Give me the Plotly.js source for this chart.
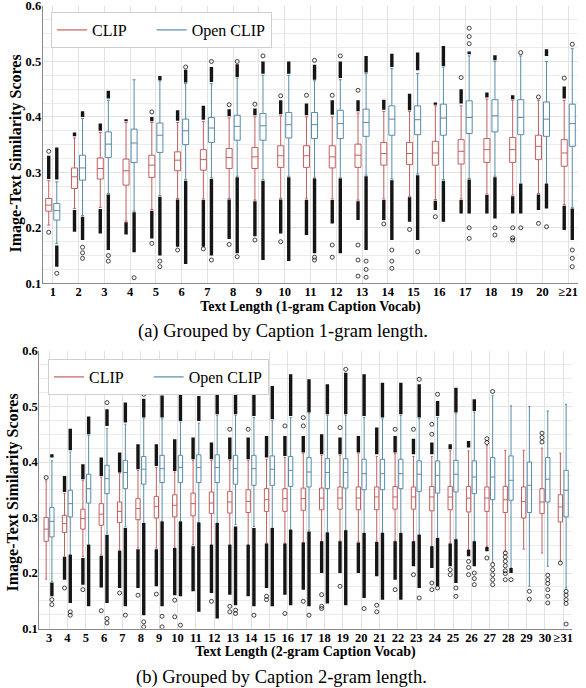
<!DOCTYPE html>
<html><head><meta charset="utf-8">
<script src="https://cdn.plot.ly/plotly-3.0.1.min.js"></script>
<style>html,body{margin:0;padding:0;background:#fff}#chart{width:586px;height:688px}</style>
</head><body><div id="chart"></div>
<script>
// ---------- (a) grouped by caption 1-gram length ----------
const topCats = ['1','2','3','4','5','6','7','8','9','10','11','12','13','14','15','16','17','18','19','20','≥21'];
const topClipLow  = [0.205,0.235,0.237,0.212,0.233,0.253,0.252,0.253,0.25,0.253,0.252,0.252,0.25,0.252,0.257,0.251,0.252,0.261,0.259,0.262,0.242];
const topClipQ1   = [0.230,0.271,0.288,0.277,0.291,0.303,0.304,0.307,0.307,0.309,0.309,0.308,0.309,0.313,0.314,0.313,0.315,0.318,0.318,0.323,0.311];
const topClipMed  = [0.241,0.292,0.307,0.303,0.313,0.322,0.323,0.327,0.328,0.330,0.330,0.328,0.331,0.334,0.334,0.335,0.338,0.341,0.341,0.347,0.335];
const topClipQ3   = [0.253,0.308,0.326,0.324,0.331,0.337,0.341,0.343,0.345,0.348,0.348,0.348,0.351,0.354,0.354,0.356,0.359,0.361,0.363,0.367,0.359];
const topClipHigh = [0.285,0.362,0.372,0.390,0.390,0.390,0.392,0.398,0.400,0.402,0.400,0.400,0.407,0.410,0.410,0.420,0.420,0.432,0.430,0.430,0.430];
const topClipUpDense  = [[0.288,0.33],[0.365,0.372],[0.375,0.388],[0.392,0.396],[0.392,0.4],[0.393,0.412],[0.395,0.42],[0.401,0.414],[0.403,0.415],[0.405,0.43],[0.403,0.424],[0.404,0.43],[0.41,0.43],[0.413,0.431],[0.412,0.442],[0.422,0.426],[0.424,0.45],[0.435,0.444],[0.432,0.439],null,[0.433,0.455]];
const topClipLowDense = [null,[0.193,0.232],[0.19,0.234],[0.188,0.21],[0.181,0.231],[0.166,0.251],[0.166,0.25],[0.18,0.251],[0.185,0.248],[0.19,0.251],[0.187,0.25],[0.208,0.25],[0.214,0.248],[0.214,0.25],[0.211,0.255],[0.232,0.249],[0.226,0.25],[0.226,0.259],[0.226,0.257],[0.232,0.26],[0.196,0.24]];
const topClipPts = [[0.338,0.192],[],[],[],[0.409,0.172],[0.16],[0.162],[0.422,0.17],[0.423,0.178],[0.438,0.175],[0.439],[0.439,0.169,0.147],[0.448,0.169,0.142,0.113],[0.207],[0.197],[0.22],[0.471],[],[0.2,0.182,0.178],[0.436,0.208],[0.47]];

const topOpenLow  = [0.172,0.222,0.262,0.230,0.258,0.287,0.290,0.293,0.287,0.293,0.290,0.290,0.295,0.288,0.297,0.287,0.289,0.293,0.280,0.280,0.237];
const topOpenQ1   = [0.214,0.286,0.327,0.318,0.336,0.350,0.354,0.358,0.358,0.362,0.361,0.361,0.365,0.367,0.368,0.367,0.370,0.373,0.368,0.365,0.347];
const topOpenMed  = [0.231,0.308,0.351,0.353,0.367,0.375,0.380,0.383,0.384,0.386,0.386,0.388,0.390,0.396,0.395,0.398,0.399,0.402,0.399,0.396,0.388];
const topOpenQ3   = [0.244,0.331,0.373,0.378,0.389,0.396,0.399,0.403,0.406,0.408,0.408,0.412,0.414,0.420,0.420,0.423,0.429,0.431,0.431,0.427,0.423];
const topOpenHigh = [0.283,0.397,0.430,0.467,0.465,0.460,0.460,0.470,0.475,0.475,0.465,0.467,0.478,0.487,0.478,0.490,0.510,0.500,0.510,0.500,0.523];
const topOpenUpDense  = [[0.287,0.345],[0.4,0.41],[0.433,0.447],null,[0.466,0.474],[0.462,0.485],[0.463,0.49],[0.472,0.495],[0.478,0.5],[0.478,0.5],[0.467,0.494],[0.47,0.5],[0.48,0.51],[0.49,0.514],[0.484,0.516],[0.492,0.528],[0.513,0.518],[0.502,0.511],null,[0.51,0.522],null];
const topOpenLowDense = [[0.13,0.168],[0.178,0.22],[0.16,0.26],[0.156,0.228],[0.15,0.256],[0.135,0.285],[0.15,0.288],[0.154,0.291],[0.142,0.285],[0.14,0.291],[0.154,0.289],[0.154,0.289],[0.16,0.293],[0.178,0.286],[0.178,0.295],[0.211,0.285],[0.226,0.287],[0.217,0.291],[0.226,0.279],[0.235,0.279],[0.178,0.235]];
const topOpenPts = [[0.118],[0.165,0.155,0.145],[0.15,0.14],[0.11],[0.14,0.13],[0.49],[0.5,0.142],[0.5,0.148],[0.51],[],[0.502,0.147,0.142],[0.51],[0.14,0.125,0.111],[0.16,0.14,0.127],[0.157],[],[0.532,0.545,0.56,0.2,0.181],[0.2,0.187],[0.516,0.2],[0.202],[0.531,0.16,0.145,0.13]];

// ---------- (b) grouped by caption 2-gram length ----------
const botCats = ['3','4','5','6','7','8','9','10','11','12','13','14','15','16','17','18','19','20','21','22','23','24','25','26','27','28','29','30','≥31'];
const botClipLow  = [0.189,0.23,0.23,0.233,0.241,0.245,0.245,0.245,0.251,0.251,0.251,0.251,0.254,0.254,0.255,0.257,0.258,0.257,0.257,0.258,0.257,0.248,0.254,0.242,0.248,0.239,0.243,0.236,0.221];
const botClipQ1   = [0.257,0.273,0.279,0.286,0.291,0.296,0.299,0.301,0.303,0.307,0.308,0.309,0.311,0.311,0.313,0.314,0.315,0.314,0.314,0.315,0.315,0.312,0.314,0.31,0.311,0.309,0.299,0.307,0.292];
const botClipMed  = [0.279,0.289,0.298,0.306,0.311,0.316,0.32,0.322,0.325,0.326,0.328,0.329,0.332,0.334,0.334,0.335,0.335,0.335,0.337,0.337,0.337,0.337,0.337,0.335,0.335,0.332,0.329,0.328,0.319];
const botClipQ3   = [0.3,0.304,0.315,0.325,0.328,0.334,0.338,0.341,0.344,0.346,0.347,0.35,0.352,0.352,0.353,0.353,0.355,0.355,0.355,0.356,0.355,0.356,0.356,0.356,0.355,0.356,0.355,0.352,0.341];
const botClipHigh = [0.366,0.343,0.367,0.373,0.38,0.385,0.39,0.382,0.403,0.403,0.403,0.403,0.405,0.408,0.415,0.412,0.412,0.415,0.41,0.415,0.41,0.41,0.42,0.42,0.43,0.421,0.421,0.425,0.416];
const botClipUpDense  = [null,[0.346,0.375],[0.369,0.396],[0.375,0.408],[0.381,0.417],[0.387,0.432],[0.393,0.432],[0.384,0.441],[0.405,0.444],[0.405,0.435],[0.405,0.444],[0.405,0.444],[0.408,0.447],[0.411,0.447],[0.417,0.447],[0.414,0.45],[0.414,0.444],[0.417,0.447],[0.414,0.462],[0.417,0.447],[0.414,0.442],[0.414,0.435],[0.423,0.432],[0.426,0.438],null,null,null,null,null];
const botClipLowDense = [null,[0.188,0.229],[0.179,0.227],[0.174,0.231],[0.173,0.24],[0.173,0.243],[0.176,0.243],[0.16,0.245],[0.167,0.248],[0.164,0.251],[0.161,0.251],[0.158,0.251],[0.173,0.253],[0.161,0.253],[0.17,0.255],[0.2,0.257],[0.2,0.257],[0.2,0.255],[0.194,0.256],[0.188,0.257],[0.212,0.257],[0.209,0.248],[0.212,0.253],[0.23,0.242],[0.239,0.247],null,null,null,null];
const botClipPts = [[0.372],[0.173],[0.17],[0.132],[0.164],[0.16],[0.162],[0.151,0.121],[],[0.149],[0.459,0.14,0.13],[0.459],[0.158,0.152],[0.465,0.127],[0.48,0.465,0.149],[0.161,0.14,0.136],[0.462,0.176],[],[0.142,0.13],[0.459,0.17],[0.459,0.197],[0.468,0.45,0.182,0.17],[0.206,0.197],[0.221,0.21,0.197],[0.442,0.435,0.227],[0.236,0.229,0.221,0.213,0.204,0.199,0.188],[],[0.452,0.444,0.436],[0.218]];

const botOpenLow  = [0.185,0.233,0.251,0.272,0.283,0.29,0.293,0.293,0.291,0.29,0.287,0.284,0.281,0.278,0.277,0.273,0.277,0.272,0.273,0.272,0.269,0.263,0.261,0.257,0.219,0.209,0.176,0.212,0.173];
const botOpenQ1   = [0.265,0.301,0.326,0.343,0.352,0.36,0.363,0.363,0.363,0.363,0.36,0.358,0.358,0.356,0.355,0.352,0.353,0.35,0.35,0.352,0.347,0.344,0.346,0.343,0.332,0.331,0.309,0.328,0.301];
const botOpenMed  = [0.293,0.325,0.352,0.37,0.381,0.387,0.388,0.39,0.39,0.39,0.388,0.388,0.387,0.385,0.382,0.381,0.381,0.379,0.379,0.379,0.378,0.376,0.378,0.373,0.373,0.367,0.358,0.369,0.349];
const botOpenQ3   = [0.318,0.349,0.378,0.394,0.403,0.41,0.412,0.412,0.413,0.413,0.412,0.412,0.411,0.41,0.408,0.406,0.406,0.405,0.405,0.405,0.402,0.402,0.403,0.402,0.408,0.411,0.4,0.408,0.385];
const botOpenHigh = [0.402,0.418,0.448,0.46,0.468,0.478,0.478,0.472,0.47,0.484,0.484,0.48,0.474,0.48,0.487,0.484,0.484,0.48,0.478,0.484,0.478,0.48,0.487,0.49,0.52,0.501,0.5,0.492,0.504];
const botOpenUpDense  = [[0.408,0.414],[0.421,0.46],[0.45,0.482],[0.465,0.495],[0.471,0.507],[0.48,0.514],[0.48,0.52],[0.474,0.522],[0.474,0.519],[0.486,0.531],[0.486,0.528],[0.483,0.537],[0.477,0.537],[0.483,0.558],[0.489,0.549],[0.486,0.54],[0.486,0.561],[0.483,0.558],[0.48,0.543],[0.486,0.543],[0.48,0.54],[0.483,0.51],[0.489,0.534],[0.492,0.513],null,null,null,null,null];
const botOpenLowDense = [[0.158,0.183],[0.146,0.233],[0.14,0.251],[0.146,0.269],[0.14,0.281],[0.124,0.29],[0.14,0.293],[0.158,0.293],[0.13,0.291],[0.118,0.29],[0.142,0.284],[0.14,0.281],[0.14,0.281],[0.142,0.278],[0.14,0.275],[0.145,0.273],[0.142,0.277],[0.155,0.272],[0.152,0.272],[0.152,0.272],[0.173,0.269],[0.176,0.263],[0.182,0.261],[0.212,0.257],null,[0.2,0.209],null,null,null];
const botOpenPts = [[0.152,0.143],[0.13,0.124],[],[0.507,0.118,0.11],[0.124],[0.522,0.112,0.103],[0.525,0.122,0.103],[0.106],[],[0.54],[0.54,0.133,0.127],[0.124],[],[],[0.124],[],[0.567],[0.136],[],[],[0.549,0.155],[0.522,0.173],[0.173,0.158],[0.2,0.19,0.179],[0.527,0.215,0.206,0.197,0.188,0.179],[0.188],[0.167,0.153],[0.196,0.188,0.181,0.17,0.158,0.146],[0.167,0.16,0.152,0.145,0.108]];

const seriesNames = ['CLIP','Open CLIP'];
const yTitle = 'Image-Text Similarity Scores';
const xTitleA = 'Text Length (1-gram Caption Vocab)';
const xTitleB = 'Text Length (2-gram Caption Vocab)';
const captionA = '(a) Grouped by Caption 1-gram length.';
const captionB = '(b) Grouped by Caption 2-gram length.';

// ---------- styling ----------
const CLIP_COLOR = '#c45f5f';
const OPEN_COLOR = '#578cab';
const FLIER = '#151515';
const SERIF = 'Liberation Serif, Times New Roman, serif';

function seriesTraces(cats, low, q1, med, q3, high, upD, loD, pts, color, og, ag, xa, ya) {
  const out = [];
  out.push({type:'box', x:cats, q1:q1, median:med, q3:q3, lowerfence:low, upperfence:high,
    boxpoints:false, offsetgroup:og, alignmentgroup:ag, xaxis:xa, yaxis:ya,
    line:{color:color, width:1}, fillcolor:'rgba(255,255,255,0)', whiskerwidth:0.5,
    showlegend:false, hoverinfo:'skip'});
  const dx = [], dy = [];
  cats.forEach((c, i) => {
    [upD[i], loD[i]].forEach(seg => { if (seg) { dx.push(c, c, null); dy.push(seg[0], seg[1], null); } });
  });
  out.push({type:'scatter', mode:'lines', x:dx, y:dy, offsetgroup:og, alignmentgroup:ag,
    xaxis:xa, yaxis:ya, line:{color:FLIER, width:3.4}, connectgaps:false, showlegend:false, hoverinfo:'skip'});
  const px = [], py = [];
  cats.forEach((c, i) => pts[i].forEach(v => { px.push(c); py.push(v); }));
  out.push({type:'scatter', mode:'markers', x:px, y:py, offsetgroup:og, alignmentgroup:ag,
    xaxis:xa, yaxis:ya, marker:{symbol:'circle-open', size:4, color:FLIER, line:{width:0.8}},
    showlegend:false, hoverinfo:'skip'});
  return out;
}

const traces = [].concat(
  seriesTraces(topCats, topClipLow, topClipQ1, topClipMed, topClipQ3, topClipHigh, topClipUpDense, topClipLowDense, topClipPts, CLIP_COLOR, 'clip', 'top', 'x', 'y'),
  seriesTraces(topCats, topOpenLow, topOpenQ1, topOpenMed, topOpenQ3, topOpenHigh, topOpenUpDense, topOpenLowDense, topOpenPts, OPEN_COLOR, 'open', 'top', 'x', 'y'),
  seriesTraces(botCats, botClipLow, botClipQ1, botClipMed, botClipQ3, botClipHigh, botClipUpDense, botClipLowDense, botClipPts, CLIP_COLOR, 'clip', 'bot', 'x2', 'y2'),
  seriesTraces(botCats, botOpenLow, botOpenQ1, botOpenMed, botOpenQ3, botOpenHigh, botOpenUpDense, botOpenLowDense, botOpenPts, OPEN_COLOR, 'open', 'bot', 'x2', 'y2')
);
// legend entries (line samples)
[['legend','x','y','top'],['legend2','x2','y2','bot']].forEach(([lg, xa, ya, ag]) => {
  seriesNames.forEach((nm, k) => {
    traces.push({type:'scatter', mode:'lines', x:[null], y:[null], xaxis:xa, yaxis:ya,
      offsetgroup: k ? 'open' : 'clip', alignmentgroup: ag,
      name: k ? nm : nm + '\u00a0\u00a0\u00a0\u00a0\u00a0', legend:lg,
      line:{color: k ? OPEN_COLOR : CLIP_COLOR, width:1.2}, showlegend:true});
  });
});

const tickFont = {family:SERIF, size:12.5, color:'#000', weight:'bold'};
const titleFont = {family:SERIF, size:14, color:'#000', weight:'bold'};
const yTitleFont = {family:SERIF, size:16, color:'#000', weight:'bold'};
const GRID = '#e2e2e2';

function xAxis(cats, domain, range, anchor, title) {
  return {domain:domain, anchor:anchor, type:'category', categoryorder:'array', categoryarray:cats,
    range:range, tickmode:'array', tickvals:cats, ticktext:cats, tickangle:0, ticks:'',
    ticklabelstandoff:-3, ticklabeloverflow:'allow',
    showgrid:true, gridcolor:GRID, gridwidth:1, zeroline:false,
    showline:true, linecolor:'#8a8a8a', linewidth:1, mirror:false,
    tickfont:tickFont, title:{text:title, font:titleFont, standoff:0}};
}
function yAxis(domain, anchor) {
  return {domain:domain, anchor:anchor, range:[0.1, 0.6], dtick:0.1, tick0:0, tickformat:'.1f', ticks:'',
    ticklabelstandoff:-2, ticklabeloverflow:'allow',
    showgrid:true, gridcolor:GRID, gridwidth:1, zeroline:false,
    minor:{dtick:0.025, showgrid:true, gridcolor:'#ececec', gridwidth:1},
    showline:true, linecolor:'#8a8a8a', linewidth:1, mirror:false,
    tickfont:tickFont};
}
const legendStyle = (x, y) => ({x:x, y:y, xanchor:'left', yanchor:'top', orientation:'h',
  bgcolor:'#ffffff', bordercolor:'#cfcfcf', borderwidth:1,
  font:{family:SERIF, size:16, color:'#000'}, itemwidth:30, tracegroupgap:0});

const layout = {
  width:586, height:688, margin:{l:0, r:0, t:0, b:0},
  paper_bgcolor:'#ffffff', plot_bgcolor:'#ffffff',
  boxmode:'group', boxgap:0.375, boxgroupgap:0.25,
  scattermode:'group', scattergap:0.375,
  showlegend:true,
  xaxis: xAxis(topCats, [42.7/586, 578.3/586], [-0.39, 20.39], 'y', xTitleA),
  yaxis: yAxis([1 - 283.3/688, 1 - 6/688], 'x'),
  xaxis2: xAxis(botCats, [39.3/586, 571.7/586], [-0.53, 28.46], 'y2', xTitleB),
  yaxis2: yAxis([1 - 628.5/688, 1 - 351/688], 'x2'),
  legend: legendStyle(51/586, 1 - 12/688),
  legend2: legendStyle(48/586, 1 - 359/688),
  annotations:[
    {text:yTitle, xref:'paper', yref:'paper', x:15.5/586, y:1 - 154/688, textangle:-90,
     xanchor:'center', yanchor:'middle', showarrow:false, font:yTitleFont},
    {text:yTitle, xref:'paper', yref:'paper', x:12.5/586, y:1 - 493/688, textangle:-90,
     xanchor:'center', yanchor:'middle', showarrow:false, font:yTitleFont},
    {text:captionA, xref:'paper', yref:'paper', x:283/586, y:1 - 331/688, xanchor:'center', yanchor:'middle',
     showarrow:false, font:{family:SERIF, size:18.5, color:'#000'}},
    {text:captionB, xref:'paper', yref:'paper', x:281/586, y:1 - 677/688, xanchor:'center', yanchor:'middle',
     showarrow:false, font:{family:SERIF, size:18.5, color:'#000'}}
  ]
};

Plotly.newPlot('chart', traces, layout, {displayModeBar:false, staticPlot:true});
</script>
</body></html>
